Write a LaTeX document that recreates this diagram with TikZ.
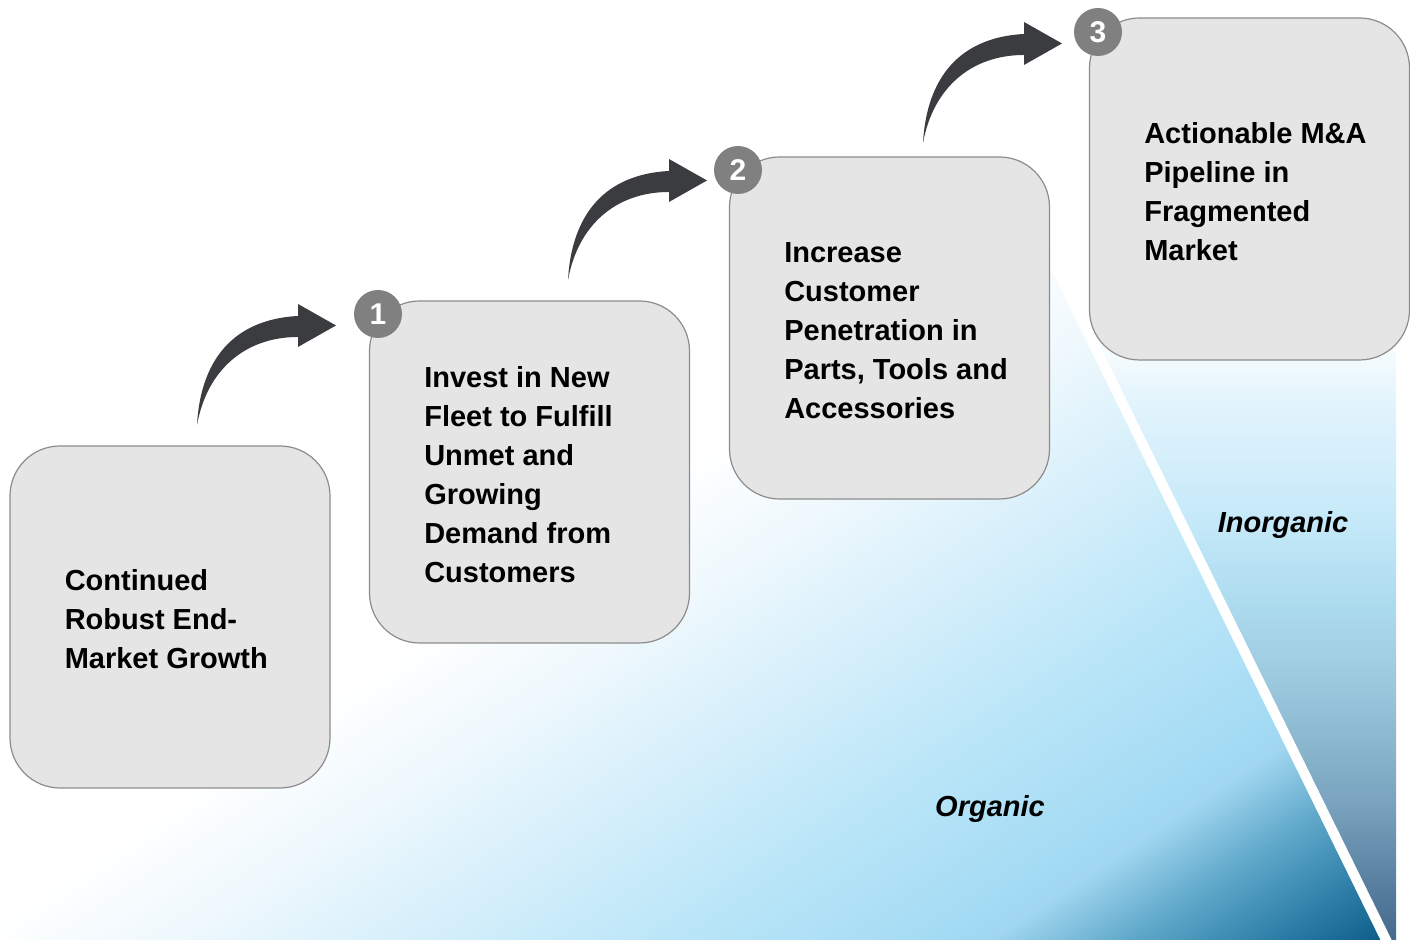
\documentclass[tikz,border=0pt]{standalone}
\usepackage{fontspec}
\setmainfont{Liberation Sans}
\usetikzlibrary{positioning}

\definecolor{boxfill}{HTML}{E5E5E5}
\definecolor{boxline}{HTML}{8C8C8C}
\definecolor{badgegray}{HTML}{808080}
\definecolor{arrowgray}{HTML}{3B3C40}
\definecolor{orgA}{HTML}{EEF8FD}
\definecolor{orgB}{HTML}{D8F0FB}
\definecolor{orgC}{HTML}{BBE6F8}
\definecolor{orgD}{HTML}{A4DBF4}
\definecolor{orgE}{HTML}{A0D6EF}
\definecolor{orgF}{HTML}{5EA7C9}
\definecolor{orgG}{HTML}{2A7CA6}
\definecolor{orgH}{HTML}{0B5A86}
\definecolor{inoA}{HTML}{46698C}
\definecolor{inoB}{HTML}{52789A}
\definecolor{inoC}{HTML}{7AA4BF}
\definecolor{inoD}{HTML}{97C4DA}
\definecolor{inoE}{HTML}{AEDCEF}
\definecolor{inoF}{HTML}{C5E9F9}
\definecolor{inoG}{HTML}{E3F4FC}

\pgfdeclarehorizontalshading{organic}{100bp}{color(0bp)=(white); color(47bp)=(white);
  color(51bp)=(orgA); color(54.9bp)=(orgB); color(59.9bp)=(orgC); color(64.9bp)=(orgD);
  color(66bp)=(orgE); color(68.6bp)=(orgF); color(71.3bp)=(orgG); color(73.4bp)=(orgH);
  color(100bp)=(orgH)}
\pgfdeclareverticalshading{inorganic}{100bp}{color(0bp)=(inoA); color(25bp)=(inoA);
  color(28.1bp)=(inoB); color(35.9bp)=(inoC); color(43.75bp)=(inoD); color(51.6bp)=(inoE);
  color(57.8bp)=(inoF); color(67.2bp)=(inoG); color(72.7bp)=(white); color(100bp)=(white)}

\begin{document}
\begin{tikzpicture}[x=0.5pt, y=0.5pt,
    stepbox/.style={draw=boxline, line width=0.6pt, fill=boxfill, rounded corners=25pt,
      minimum width=160pt, minimum height=171pt, inner sep=0pt},
    badge/.style={circle, fill=badgegray, text=white, minimum size=24pt, inner sep=0pt,
      font=\fontsize{15}{15}\selectfont\bfseries},
    boxtext/.style={anchor=west, align=left, inner sep=0pt, yshift=-1.25pt,
      font=\fontsize{14.5}{19.5}\selectfont\bfseries},
    growth/.style={font=\fontsize{14.5}{19.5}\selectfont\bfseries\itshape}]
  \useasboundingbox (0,0) rectangle (1410,940);
  % organic area
  \begin{scope}
    \clip (0,0) -- (1391,0) -- (1008,770) -- (0,770) -- cycle;
    \shade[shading=organic, shading angle=-56.6] (-50,-370) rectangle (1450,1130);
  \end{scope}
  % inorganic area
  \begin{scope}
    \clip (1008,770) -- (1396,770) -- (1396,0) -- (1391,0) -- cycle;
    \shade[shading=inorganic] (1000,0) rectangle (1400,640);
  \end{scope}
  \draw [white, line width=5pt] (1391,-10) -- (1008,770);
  % steps
  \node [stepbox] (b0) at (170,323) {};
  \node [stepbox] (b1) at (529.5,468) {};
  \node [stepbox] (b2) at (889.5,612) {};
  \node [stepbox] (b3) at (1249.5,751) {};
  \node [boxtext, right=27.5pt of b0.west] (t0) {Continued\\Robust End-\\Market Growth};
  \node [boxtext, right=27.5pt of b1.west] (t1) {Invest in New\\Fleet to Fulfill\\Unmet and\\Growing\\Demand from\\Customers};
  \node [boxtext, right=27.5pt of b2.west] (t2) {Increase\\Customer\\Penetration in\\Parts, Tools and\\Accessories};
  \node [boxtext, right=27.5pt of b3.west] (t3) {Actionable M\&A\\Pipeline in\\Fragmented\\Market};
  \node [badge] (n1) at (378,626) {1};
  \node [badge] (n2) at (738,770) {2};
  \node [badge] (n3) at (1098,908) {3};
  % curved arrows
  \coordinate (tail1) at (197,515);
  \coordinate (tail2) at (568,660);
  \coordinate (tail3) at (923,797);
  \foreach \i in {1,2,3}
    \fill [arrowgray, shift={(tail\i)}] (0,0) .. controls (3,55) and (28,105) .. (101,109)
      -- (101,121) -- (139,99.5) -- (101,78) -- (101,88)
      .. controls (48,88) and (10,55) .. (0,0) -- cycle;
  \node [growth] (org) at (990,131) {Organic};
  \node [growth] (inorg) at (1283,415) {Inorganic};
\end{tikzpicture}
\end{document}
